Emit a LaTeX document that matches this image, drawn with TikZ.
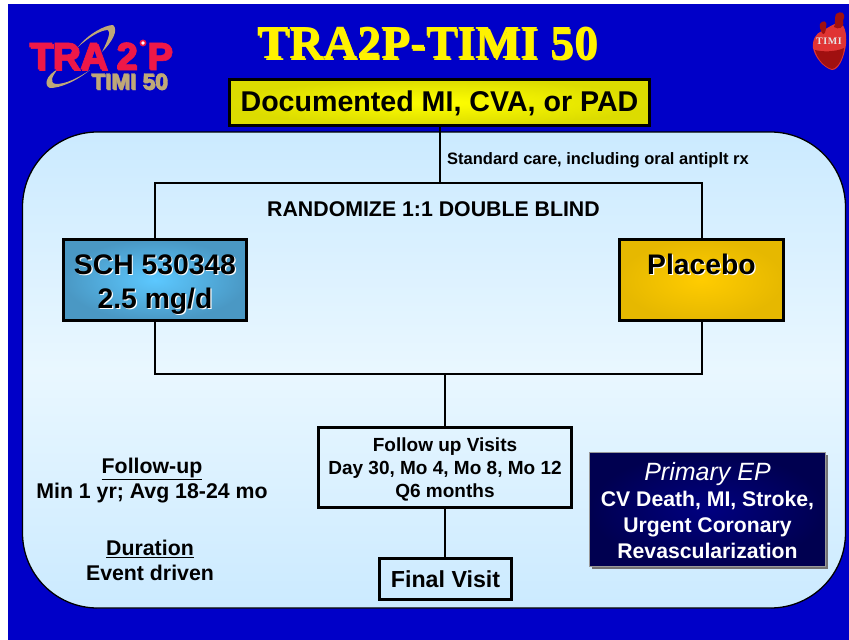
\documentclass[tikz,border=0pt]{standalone}
\usepackage{fontspec}
\setmainfont{Liberation Sans}
\newfontfamily\titlefont{Liberation Serif}
\newfontfamily\heavy[FakeBold=1.5]{Liberation Sans}
\usetikzlibrary{shadows,calc}
\newcommand{\fs}[2]{\fontsize{#1}{#2}\selectfont}
\newcommand{\shadowtext}[3]{\leavevmode\rlap{\kern#1\raisebox{-#1}{\textcolor{#2}{#3}}}#3}
\newcommand{\dn}[2]{\raisebox{-#1}[.72em][.22em]{#2}}
\definecolor{slideblue}{HTML}{0000C8}
\definecolor{panelA}{HTML}{CBEAFF}
\definecolor{panelB}{HTML}{E9F7FF}
\definecolor{ringtan}{HTML}{BFA878}
\definecolor{logored}{HTML}{EE1848}
\definecolor{heartred}{HTML}{E03434}
\definecolor{heartdark}{HTML}{A01010}
\definecolor{schin}{HTML}{5CC8FF}
\definecolor{schout}{HTML}{4A98C4}
\definecolor{plin}{HTML}{FFCC00}
\definecolor{plout}{HTML}{E6B800}
\definecolor{docin}{HTML}{FFFF00}
\definecolor{docout}{HTML}{DCDC00}
\definecolor{epin}{HTML}{000080}
\definecolor{epout}{HTML}{000050}
\tikzset{
 conn/.style={draw=black,line width=2pt},
 boxblack/.style={draw=black,line width=3.2pt,inner sep=0pt,align=center},
 plain/.style={inner sep=0pt,align=center,text=black},
}
\begin{document}
\begin{tikzpicture}[x=1pt,y=-1pt]
\useasboundingbox (0,0) rectangle (849,640);
\fill[white] (0,0) rectangle (849,640);
\fill[slideblue] (8,4) rectangle (849,640);
% panel
\node[draw=black,line width=1.3pt,rounded corners=75pt,top color=panelA,bottom color=panelA,middle color=panelB,
  minimum width=823pt,minimum height=476pt,inner sep=0pt] (panel) at (434,370) {};
% logo
\fill[ringtan] (78,47) .. controls (88,34) and (105,25) .. (113,25) .. controls (119,30) and (112,42) .. (102,52) .. controls (108,40) and (111,32) .. (108,30) .. controls (100,30) and (88,38) .. (78,47) -- cycle;
\fill[ringtan] (90,70) .. controls (75,82) and (60,88) .. (50,88) .. controls (44,86) and (45,76) .. (58,69) .. controls (52,76) and (49,83) .. (56,84) .. controls (66,84) and (78,78) .. (90,70) -- cycle;
\node[plain,anchor=base west,font=\heavy\bfseries\fs{38}{38}] (logoa) at (29,69) {\shadowtext{1.5pt}{black!70}{\textcolor{logored}{TRA}}};
\node[plain,anchor=base west,font=\heavy\bfseries\fs{38}{38}] (logob) at (116,69) {\shadowtext{1pt}{black!40}{\textcolor{logored}{2}}};
\node[plain,anchor=base west,font=\heavy\bfseries\fs{38}{38}] (logoc) at (147,69) {\shadowtext{1pt}{black!40}{\textcolor{logored}{P}}};
\draw[logored,line width=1.6pt,fill=white] (143,43) circle (2.6pt);
\node[plain,anchor=base west,font=\heavy\bfseries\fs{22.5}{23}] (logod) at (91,89) {\shadowtext{1pt}{black!50}{\textcolor{ringtan}{TIMI 50}}};
% heart
\fill[heartred] (822,31) .. controls (828,28) and (838,20) .. (842,24) .. controls (847,30) and (847,42) .. (845,50) .. controls (843,60) and (838,70) .. (832,70) .. controls (824,68) and (815,58) .. (813,48) .. controls (812,40) and (816,33) .. (822,31) -- cycle;
\fill[heartdark] (836,14) .. controls (840,11) and (847,11) .. (843,21) .. controls (845,28) and (838,30) .. (834,27) .. controls (836,24) and (834,18) .. (836,14) -- cycle;
\fill[heartdark] (820,24) .. controls (822,20) and (828,20) .. (826,27) .. controls (826,32) and (824,36) .. (822,33) .. controls (821,30) and (819,28) .. (820,24) -- cycle;
\fill[heartdark] (815,50) .. controls (822,52) and (836,52) .. (844,48) .. controls (843,58) and (838,68) .. (832,69) .. controls (824,67) and (817,58) .. (815,50) -- cycle;
\node[inner sep=0pt,text=white!90!black,font=\titlefont\bfseries\fs{10}{10}] (hearttext) at (829,41) {T\kern.6pt I\kern.6pt M\kern.6pt I};
% title
\node[plain,font=\titlefont\bfseries\fs{47.3}{47}] (title) at (428,44) {\shadowtext{1.2pt}{black!75!slideblue}{\textcolor{yellow}{TRA2P-TIMI 50}}};
% boxes
\node[boxblack,shading=radial,inner color=docin,outer color=docout,minimum width=420pt,minimum height=46pt,font=\bfseries\fs{28.6}{28}] (doc) at (439.5,102.5) {\dn{2pt}{Documented MI, CVA, or PAD}};
\node[boxblack,shading=radial,inner color=schin,outer color=schout,minimum width=183pt,minimum height=81pt,font=\bfseries\fs{28.3}{34}] (sch) at (155,280)
 {\dn{4pt}{\shadowtext{1.2pt}{white}{SCH 530348}}\\\dn{4pt}{\shadowtext{1.2pt}{white}{2.5 mg/d}}};
\node[boxblack,shading=radial,inner color=plin,outer color=plout,minimum width=164pt,minimum height=81pt,font=\bfseries\fs{28.3}{34}] (placebo) at (701.5,280)
 {\dn{4pt}{\shadowtext{1.2pt}{white}{Placebo}}\\\dn{4pt}{\phantom{Placebo}}};
\node[boxblack,minimum width=253pt,minimum height=80pt,font=\bfseries\fs{19}{23}] (follow) at (445,467.5)
 {\dn{2pt}{Follow up Visits}\\\dn{2pt}{Day 30, Mo 4, Mo 8, Mo 12}\\\dn{2pt}{Q6 months}};
\node[boxblack,minimum width=132pt,minimum height=41pt,font=\bfseries\fs{23.2}{23}] (final) at (445.5,579) {Final Visit};
\node[draw=black!40,line width=.8pt,shading=radial,inner color=epin,outer color=epout,
  drop shadow={shadow xshift=2pt,shadow yshift=-2pt,fill=black!55,opacity=1},
  minimum width=236pt,minimum height=114pt,inner sep=0pt,align=center,text=white,font=\bfseries\fs{21.2}{26}] (ep) at (707.5,509.5)
 {\dn{5pt}{\mdseries\itshape\fs{25}{26}Primary EP}\\\dn{5pt}{CV Death, MI, Stroke,}\\\dn{5pt}{Urgent Coronary}\\\dn{5pt}{Revascularization}};
% labels
\node[plain,font=\bfseries\fs{16.5}{15}] (std) at (598,160.5) {Standard care, including oral antiplt rx};
\node[plain,font=\bfseries\fs{21.3}{18}] (rand) at (433.5,209) {RANDOMIZE 1:1 DOUBLE BLIND};
\node[plain,font=\bfseries\fs{21.3}{25}] (fu) at (152,480.5) {\underline{Follow-up}\\Min 1 yr; Avg 18-24 mo};
\node[plain,font=\bfseries\fs{21.3}{25}] (dur) at (150,560.5) {\underline{Duration}\\Event driven};
% connectors
\coordinate (upL) at (155,183);
\coordinate (upR) at (701.5,183);
\coordinate (upM) at (439.5,183);
\coordinate (lowL) at (155,374);
\coordinate (lowR) at (701.5,374);
\coordinate (lowM) at (445,374);
\draw[conn] (doc.south) -- (upM);
\draw[conn] (sch.north) -- (upL) -- (upR) -- (placebo.north);
\draw[conn] (sch.south) -- (lowL) -- (lowR) -- (placebo.south);
\draw[conn] (lowM) -- (follow.north);
\draw[conn] (follow.south) -- (follow.south |- final.north);
\end{tikzpicture}
\end{document}
